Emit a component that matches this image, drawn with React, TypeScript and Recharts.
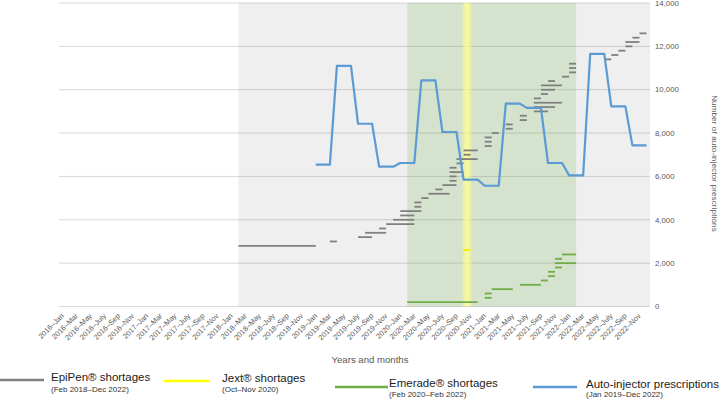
import React from 'react';
import { ComposedChart, Line, XAxis, YAxis, CartesianGrid, ReferenceArea } from 'recharts';

// ---------- data ----------
const years = [2016, 2017, 2018, 2019, 2020, 2021, 2022];
const monthNames = ['Jan', 'Feb', 'Mar', 'Apr', 'May', 'June', 'July', 'Aug', 'Sep', 'Oct', 'Nov', 'Dec'];
const monthLabels: string[] = years.flatMap((y) => monthNames.map((m) => `${y}–${m}`));

const yTicks = [0, 2000, 4000, 6000, 8000, 10000, 12000, 14000];

// Auto-injector prescriptions (Jan 2019 – Dec 2022), one value per month
const prescriptionStart = '2019–Jan';
const prescriptions = [
  6540, 6540, 6540, 11100, 11100, 11100, 8430, 8430, 8430, 6450, 6450, 6450,
  6620, 6620, 6620, 10430, 10430, 10430, 8050, 8050, 8050, 5850, 5850, 5850,
  5570, 5570, 5570, 9360, 9360, 9360, 9160, 9160, 9160, 6620, 6620, 6620,
  6050, 6050, 6050, 11650, 11650, 11650, 9230, 9230, 9230, 7430, 7430, 7430,
];

// EpiPen shortages: [from, to, level]
const epipenShortages: [string, string, number][] = [
  ['2018–Feb', '2019–Jan', 2800],
  ['2019–Mar', '2019–Apr', 3000],
  ['2019–July', '2019–Sep', 3200],
  ['2019–Aug', '2019–Nov', 3400],
  ['2019–Oct', '2019–Nov', 3600],
  ['2019–Nov', '2020–Mar', 3800],
  ['2019–Dec', '2020–Mar', 4000],
  ['2020–Jan', '2020–Mar', 4200],
  ['2020–Jan', '2020–Apr', 4400],
  ['2020–Mar', '2020–Apr', 4600],
  ['2020–Mar', '2020–Apr', 4800],
  ['2020–Apr', '2020–May', 5000],
  ['2020–May', '2020–Aug', 5200],
  ['2020–June', '2020–July', 5400],
  ['2020–July', '2020–Sep', 5600],
  ['2020–Aug', '2020–Sep', 5800],
  ['2020–Aug', '2020–Sep', 6000],
  ['2020–Aug', '2020–Oct', 6200],
  ['2020–Aug', '2020–Sep', 6400],
  ['2020–Sep', '2020–Oct', 6600],
  ['2020–Sep', '2020–Dec', 6800],
  ['2020–Oct', '2020–Nov', 7000],
  ['2020–Oct', '2020–Dec', 7200],
  ['2021–Jan', '2021–Feb', 7400],
  ['2021–Jan', '2021–Feb', 7600],
  ['2021–Jan', '2021–Feb', 7800],
  ['2021–Feb', '2021–Mar', 8000],
  ['2021–Apr', '2021–May', 8200],
  ['2021–Apr', '2021–May', 8400],
  ['2021–June', '2021–July', 8600],
  ['2021–June', '2021–July', 8800],
  ['2021–Aug', '2021–Oct', 9000],
  ['2021–Aug', '2021–Nov', 9200],
  ['2021–Aug', '2021–Dec', 9400],
  ['2021–Aug', '2021–Sep', 9600],
  ['2021–Sep', '2021–Oct', 9800],
  ['2021–Sep', '2021–Nov', 10000],
  ['2021–Sep', '2021–Dec', 10200],
  ['2021–Oct', '2021–Nov', 10400],
  ['2021–Dec', '2022–Jan', 10600],
  ['2022–Jan', '2022–Feb', 10800],
  ['2022–Jan', '2022–Feb', 11000],
  ['2022–Jan', '2022–Feb', 11200],
  ['2022–June', '2022–July', 11400],
  ['2022–July', '2022–Aug', 11600],
  ['2022–Aug', '2022–Sep', 11800],
  ['2022–Sep', '2022–Oct', 12000],
  ['2022–Sep', '2022–Nov', 12200],
  ['2022–Oct', '2022–Nov', 12400],
  ['2022–Nov', '2022–Dec', 12600],
];

// Emerade shortages: [from, to, level]
const emeradeShortages: [string, string, number][] = [
  ['2020–Feb', '2020–Dec', 200],
  ['2021–Jan', '2021–Feb', 400],
  ['2021–Jan', '2021–Feb', 600],
  ['2021–Feb', '2021–May', 800],
  ['2021–June', '2021–Sep', 1000],
  ['2021–Sep', '2021–Oct', 1200],
  ['2021–Oct', '2021–Nov', 1400],
  ['2021–Oct', '2021–Nov', 1600],
  ['2021–Nov', '2021–Dec', 1800],
  ['2021–Nov', '2022–Feb', 2000],
  ['2021–Nov', '2021–Dec', 2200],
  ['2021–Dec', '2022–Feb', 2400],
];

// Jext shortages: [from, to, level]
const jextShortages: [string, string, number][] = [['2020–Oct', '2020–Nov', 2600]];

// Shaded periods
const epipenPeriodStart = '2018–Feb';
const emeradePeriod = ['2020–Feb', '2022–Feb'];
const jextPeriod = ['2020–Oct', '2020–Nov'];

const legendItems = [
  { name: 'EpiPen® shortages', sub: '(Feb 2018–Dec 2022)', color: '#808080' },
  { name: 'Jext® shortages', sub: '(Oct–Nov 2020)', color: '#ffff00' },
  { name: 'Emerade® shortages', sub: '(Feb 2020–Feb 2022)', color: '#70ad47' },
  { name: 'Auto-injector prescriptions', sub: '(Jan 2019–Dec 2022)', color: '#5b9bd5' },
];

// ---------- table ----------
const idx = (label: string) => monthLabels.indexOf(label);
const rxStart = idx(prescriptionStart);

const rows = monthLabels.map((label, i) => {
  const row: Record<string, any> = { x: i, label };
  epipenShortages.forEach(([a, b, v], k) => {
    if (i >= idx(a) && i <= idx(b)) row[`ep${k}`] = v;
  });
  emeradeShortages.forEach(([a, b, v], k) => {
    if (i >= idx(a) && i <= idx(b)) row[`em${k}`] = v;
  });
  jextShortages.forEach(([a, b, v], k) => {
    if (i >= idx(a) && i <= idx(b)) row[`jx${k}`] = v;
  });
  if (i >= rxStart && i - rxStart < prescriptions.length) row.rx = prescriptions[i - rxStart];
  return row;
});

const xTicks = monthLabels.map((_, i) => i).filter((i) => i % 2 === 0);

const FONT = '"Liberation Sans", Arial, sans-serif';

const XTick = (props: any) => {
  const { x, y, payload } = props;
  return (
    <text
      x={x}
      y={y}
      transform={`rotate(-45 ${x} ${y})`}
      textAnchor="end"
      dy="0.35em"
      fontSize={7.4}
      fill="#595959"
      fontFamily={FONT}
    >
      {monthLabels[payload.value]}
    </text>
  );
};

const YellowBand = (props: any) => {
  const { x, y, width, height } = props;
  return (
    <g>
      <defs>
        <filter id="jextGlow" x="-100%" y="0" width="300%" height="100%">
          <feGaussianBlur stdDeviation="1.8 0" />
        </filter>
      </defs>
      <rect x={x} y={y} width={width} height={height} fill="#ffff8c" fillOpacity={0.8} filter="url(#jextGlow)" />
    </g>
  );
};

const lineCommon = {
  dot: false,
  activeDot: false,
  isAnimationActive: false,
  connectNulls: false,
  strokeLinecap: 'butt' as const,
  type: 'linear' as const,
};

export default function App() {
  return (
    <div style={{ position: 'absolute', left: 0, top: 0, width: 720, height: 399, background: '#fff' }}>
      <ComposedChart width={720} height={399} data={rows} margin={{ top: 3, right: 0, bottom: 0, left: 59 }}>
        <CartesianGrid vertical={false} stroke="#d9d9d9" strokeWidth={1} />
        <ReferenceArea x1={idx(epipenPeriodStart)} fill="#000000" fillOpacity={0.062} stroke="none" />
        <ReferenceArea x1={idx(emeradePeriod[0])} x2={idx(emeradePeriod[1])} fill="#70ad47" fillOpacity={0.2} stroke="none" />
        <ReferenceArea x1={idx(jextPeriod[0])} x2={idx(jextPeriod[1])} shape={YellowBand} />
        <XAxis
          type="number"
          dataKey="x"
          domain={[-0.5, 83.5]}
          ticks={xTicks}
          interval={0}
          axisLine={false}
          tickLine={false}
          tickSize={0}
          tickMargin={8}
          height={92.5}
          tick={<XTick />}
        />
        <YAxis
          orientation="right"
          domain={[0, 14000]}
          ticks={yTicks}
          interval={0}
          width={70}
          axisLine={false}
          tickLine={false}
          tickSize={0}
          tickMargin={5}
          tick={{ fontSize: 7.8, fill: '#595959', fontFamily: FONT, textAnchor: 'start' }}
          tickFormatter={(v: number) => v.toLocaleString('en-US')}
        />
        {epipenShortages.map((_, k) => (
          <Line key={`ep${k}`} dataKey={`ep${k}`} stroke="#808080" strokeWidth={1.8} {...lineCommon} />
        ))}
        {emeradeShortages.map((_, k) => (
          <Line key={`em${k}`} dataKey={`em${k}`} stroke="#70ad47" strokeWidth={1.8} {...lineCommon} />
        ))}
        {jextShortages.map((_, k) => (
          <Line key={`jx${k}`} dataKey={`jx${k}`} stroke="#f0f000" strokeWidth={1.8} {...lineCommon} />
        ))}
        <Line dataKey="rx" stroke="#5b9bd5" strokeWidth={2.2} strokeLinejoin="round" {...lineCommon} />
      </ComposedChart>
      <svg
        width={720}
        height={399}
        style={{ position: 'absolute', left: 0, top: 0, pointerEvents: 'none' }}
        fontFamily={FONT}
      >
        <text x={370} y={363.4} textAnchor="middle" fontSize={9.6} fill="#595959">
          Years and months
        </text>
        <text
          x={714}
          y={163.5}
          transform="rotate(90 714 163.5)"
          textAnchor="middle"
          dominantBaseline="central"
          fontSize={8}
          letterSpacing={0.15}
          fill="#595959"
        >
          Number of auto-injector prescriptions
        </text>
        {/* legend */}
        <line x1={0} x2={44} y1={380} y2={380} stroke={legendItems[0].color} strokeWidth={2.5} />
        <text x={51} y={380.5} fontSize={11.5} fill="#222">{legendItems[0].name}</text>
        <text x={51} y={392.3} fontSize={8} fill="#333">{legendItems[0].sub}</text>

        <line x1={164} x2={209} y1={381} y2={381} stroke={legendItems[1].color} strokeWidth={2.5} />
        <text x={222} y={382.3} fontSize={11.5} fill="#222">{legendItems[1].name}</text>
        <text x={222} y={392.3} fontSize={8} fill="#333">{legendItems[1].sub}</text>

        <line x1={335} x2={388} y1={387} y2={387} stroke={legendItems[2].color} strokeWidth={2.5} />
        <text x={389} y={386.5} fontSize={11.5} fill="#222">{legendItems[2].name}</text>
        <text x={389} y={397} fontSize={8} fill="#333">{legendItems[2].sub}</text>

        <line x1={533} x2={577} y1={387} y2={387} stroke={legendItems[3].color} strokeWidth={2.5} />
        <text x={586} y={387.5} fontSize={11.5} fill="#222">{legendItems[3].name}</text>
        <text x={586} y={397} fontSize={8} fill="#333">{legendItems[3].sub}</text>
      </svg>
    </div>
  );
}
